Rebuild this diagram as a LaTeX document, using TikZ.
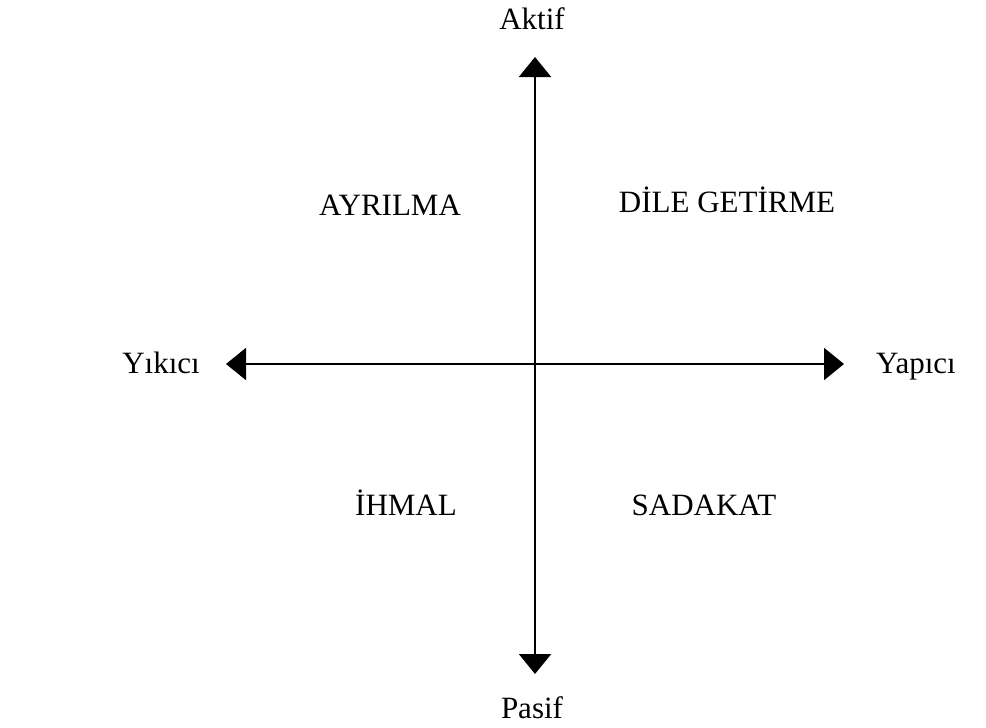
\documentclass[tikz,border=0pt]{standalone}
\usepackage{fontspec}
\setmainfont{Liberation Serif}
\usetikzlibrary{arrows.meta}
\begin{document}
\begin{tikzpicture}[x=0.5pt,y=-0.5pt,
  axis/.style={line width=1pt, {Triangle[length=10pt,width=16pt]}-{Triangle[length=10pt,width=16pt]}},
  lbl/.style={font=\fontsize{15.5}{18}\selectfont, anchor=base, inner sep=0pt}]
\useasboundingbox (0,0) rectangle (986,728);
\coordinate (top) at (535,57);
\coordinate (bottom) at (535,674);
\coordinate (left) at (226,364);
\coordinate (right) at (844,364);
\draw[axis] (bottom) -- (top);
\draw[axis] (left) -- (right);
\node[lbl] (aktif) at (532,30) {Aktif};
\node[lbl] (pasif) at (532,718) {Pasif};
\node[lbl] (yikici) at (161,373) {Yıkıcı};
\node[lbl] (yapici) at (916,373) {Yapıcı};
\node[lbl] (ayrilma) at (390,215) {AYRILMA};
\node[lbl] (dile) at (727,212) {DİLE GETİRME};
\node[lbl] (ihmal) at (406,515) {İHMAL};
\node[lbl] (sadakat) at (704,515) {SADAKAT};
\end{tikzpicture}
\end{document}
